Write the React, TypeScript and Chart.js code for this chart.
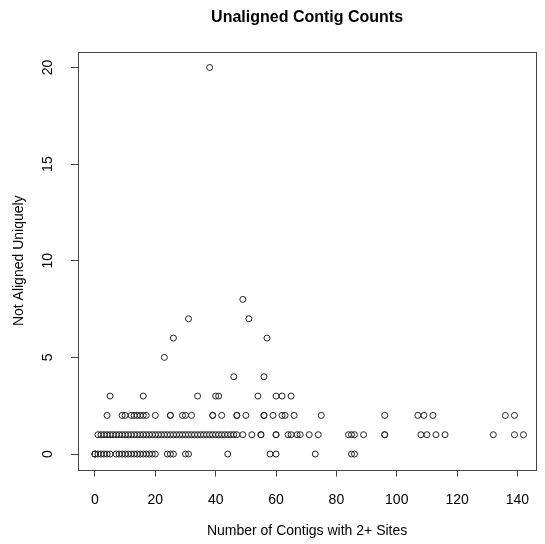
import React, { useEffect, useRef } from "react";
import { Chart, registerables } from "chart.js";

Chart.register(...registerables);

// Tick labels
const xTickValues = [0, 20, 40, 60, 80, 100, 120, 140];
const yTickValues = [0, 5, 10, 15, 20];

// x values (Number of Contigs with 2+ Sites) grouped by y value (Not Aligned Uniquely)
const xWhenY0 = [0, 0, 0, 1, 2, 3, 4, 5, 7, 8, 9, 10, 11, 12, 13, 14, 15, 16, 17, 18, 19, 20, 24, 25, 26, 30, 31, 44, 58, 60, 73, 85, 86];
const xWhenY1 = [
  1, 2, 3, 4, 5, 6, 7, 8, 9, 10, 11, 12, 13, 14, 15, 16, 17, 18, 19, 20, 21, 22, 23, 24, 25, 26, 27, 28, 29, 30,
  31, 32, 33, 34, 35, 36, 37, 38, 39, 40, 41, 42, 43, 44, 45, 46, 47, 49, 52, 55, 55, 60, 60, 64, 65, 67, 68, 71,
  74, 84, 85, 86, 89, 96, 96, 108, 110, 113, 116, 132, 139, 142,
];
const xWhenY2 = [4, 9, 10, 12, 13, 14, 15, 16, 17, 20, 25, 25, 29, 30, 32, 39, 39, 42, 47, 47, 50, 56, 56, 59, 62, 63, 66, 75, 96, 107, 109, 112, 136, 139];
const xWhenY3 = [5, 16, 34, 40, 41, 54, 60, 62, 65];
const xWhenY4 = [46, 56];
const xWhenY5 = [23];
const xWhenY6 = [26, 57];
const xWhenY7 = [31, 51];
const xWhenY8 = [49];
const xWhenY20 = [38];

const groups: [number, number[]][] = [
  [0, xWhenY0],
  [1, xWhenY1],
  [2, xWhenY2],
  [3, xWhenY3],
  [4, xWhenY4],
  [5, xWhenY5],
  [6, xWhenY6],
  [7, xWhenY7],
  [8, xWhenY8],
  [20, xWhenY20],
];

const FONT = "'Liberation Sans', Arial, Helvetica, sans-serif";

const boxAndLabels = {
  id: "boxAndLabels",
  afterDraw(chart: any) {
    const { ctx, chartArea } = chart;
    ctx.save();
    ctx.strokeStyle = "#444";
    ctx.lineWidth = 1;
    ctx.strokeRect(
      Math.round(chartArea.left) + 0.5,
      Math.round(chartArea.top) + 0.5,
      Math.round(chartArea.right) - Math.round(chartArea.left),
      Math.round(chartArea.bottom) - Math.round(chartArea.top)
    );
    // rotated y tick labels (R style)
    const yScale = chart.scales.y;
    ctx.fillStyle = "#000";
    ctx.font = `14px ${FONT}`;
    ctx.textAlign = "center";
    ctx.textBaseline = "middle";
    for (const t of yScale.ticks) {
      const py = yScale.getPixelForValue(t.value);
      ctx.save();
      ctx.translate(48, py);
      ctx.rotate(-Math.PI / 2);
      ctx.fillText(String(t.value), 0, 0);
      ctx.restore();
    }
    ctx.restore();
  },
};

export default function App() {
  const ref = useRef<HTMLCanvasElement | null>(null);

  useEffect(() => {
    document.body.style.margin = "0";
    const data: { x: number; y: number }[] = [];
    for (const [yv, xs] of groups) {
      for (const xv of xs) data.push({ x: xv, y: yv });
    }
    const chart = new Chart(ref.current as HTMLCanvasElement, {
      type: "scatter",
      data: {
        datasets: [
          {
            data,
            pointStyle: "circle",
            pointRadius: 3,
            pointHoverRadius: 3,
            borderWidth: 1,
            borderColor: "#222",
            backgroundColor: "rgba(0,0,0,0)",
          },
        ],
      },
      options: {
        animation: false,
        responsive: false,
        devicePixelRatio: 1,
        events: [],
        layout: { padding: { top: 0, right: 4, left: 0, bottom: 0 } },
        plugins: {
          legend: { display: false },
          tooltip: { enabled: false },
          title: {
            display: true,
            text: "Unaligned Contig Counts",
            fullSize: false,
            color: "#000",
            font: { family: FONT, size: 16, weight: "bold", lineHeight: 1.2 },
            padding: { top: 8.4, bottom: 24.4 },
          },
        },
        scales: {
          x: {
            type: "linear",
            min: -5.62,
            max: 146.2,
            afterBuildTicks: (s: any) => {
              s.ticks = xTickValues.map((v) => ({ value: v }));
            },
            afterFit: (s: any) => {
              s.height = 74.5;
            },
            grid: { drawOnChartArea: false, drawTicks: true, tickLength: 7, color: "#444" },
            border: { display: false },
            ticks: {
              padding: 15.5,
              color: "#000",
              maxRotation: 0,
              autoSkip: false,
              font: { family: FONT, size: 14 },
            },
            title: {
              display: true,
              text: "Number of Contigs with 2+ Sites",
              color: "#000",
              font: { family: FONT, size: 14, lineHeight: 1.2 },
              padding: { top: 0, bottom: 4.6 },
            },
          },
          y: {
            type: "linear",
            min: -0.8,
            max: 20.8,
            afterBuildTicks: (s: any) => {
              s.ticks = yTickValues.map((v) => ({ value: v }));
            },
            afterFit: (s: any) => {
              s.width = 78;
            },
            grid: { drawOnChartArea: false, drawTicks: true, tickLength: 7, color: "#444" },
            border: { display: false },
            ticks: { display: false },
            title: {
              display: true,
              text: "Not Aligned Uniquely",
              color: "#000",
              font: { family: FONT, size: 14, lineHeight: 1.2 },
              padding: { top: 11, bottom: 0 },
            },
          },
        },
      },
      plugins: [boxAndLabels],
    });
    return () => chart.destroy();
  }, []);

  return (
    <div style={{ position: "absolute", left: 0, top: 0, width: 545, height: 544, background: "#fff" }}>
      <canvas ref={ref} width={545} height={544} style={{ width: 545, height: 544, display: "block" }} />
    </div>
  );
}
